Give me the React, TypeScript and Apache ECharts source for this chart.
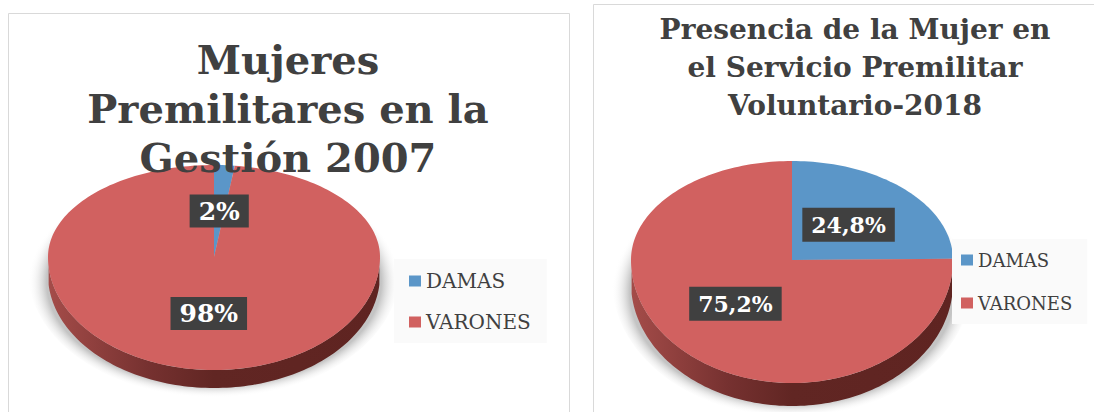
import React, { useEffect, useRef } from "react";
import * as echarts from "echarts";

const categories = ["DAMAS", "VARONES"];
const values2007 = [2, 98];
const values2018 = [24.8, 75.2];
const title2007 = "Mujeres\nPremilitares en la\nGestión 2007";
const title2018 = "Presencia de la Mujer en\nel Servicio Premilitar\nVoluntario-2018";

const COLORS = ["#5b96c8", "#d16160"];
const SERIF = "'DejaVu Serif', serif";

const pies = [
  { values: values2007, cx: 214, cy: 257, rx: 166, ryTop: 92, ryBottom: 113, depth: 18, labelSize: 25, labelPad: [4, 9, 4, 9] },
  { values: values2018, cx: 792, cy: 260, rx: 161, ryTop: 99, ryBottom: 123, depth: 23, labelSize: 22, labelPad: [6, 9, 6, 9] },
];

type Pie = (typeof pies)[number];

const rimPoint = (p: Pie, deg: number, k = 1, dy = 0) => {
  const t = (deg * Math.PI) / 180;
  const c = Math.cos(t);
  return [p.cx + k * p.rx * Math.sin(t), p.cy + dy - k * c * (c > 0 ? p.ryTop : p.ryBottom)];
};

const arc = (p: Pie, from: number, to: number, dy = 0, k = 1) => {
  const pts: number[][] = [];
  const n = Math.max(2, Math.ceil(Math.abs(to - from) / 1.5));
  for (let i = 0; i <= n; i++) pts.push(rimPoint(p, from + ((to - from) * i) / n, k, dy));
  return pts;
};

const fmt = (v: number) => `${String(v).replace(".", ",")}%`;

const sliceSeries = (p: Pie, idx: number) => {
  const total = p.values.reduce((a, b) => a + b, 0);
  const start = p.values.slice(0, idx).reduce((a, b) => a + b, 0);
  return {
    type: "custom",
    name: categories[idx],
    coordinateSystem: "none",
    itemStyle: { color: COLORS[idx] },
    silent: true,
    z: 3,
    data: [[p.values[idx], start]],
    renderItem: (_: any, api: any) => {
      const v = api.value(0);
      const s = api.value(1);
      const a0 = (s / total) * 360;
      const a1 = ((s + v) / total) * 360;
      const mid = (a0 + a1) / 2;
      const [lx, ly] = rimPoint(p, mid, 0.5);
      return {
        type: "group",
        children: [
          {
            type: "polygon",
            shape: { points: [[p.cx, p.cy], ...arc(p, a0, a1)] },
            style: { fill: COLORS[idx] },
          },
          {
            type: "text",
            z2: 100,
            x: lx,
            y: ly,
            style: {
              text: fmt(v),
              fill: "#ffffff",
              font: `bold ${p.labelSize}px ${SERIF}`,
              align: "center",
              verticalAlign: "middle",
              backgroundColor: "#404040",
              padding: p.labelPad,
              boxShadowBlur: 5,
              boxShadowColor: "rgba(0,0,0,0.45)",
              boxShadowOffsetX: 2,
              boxShadowOffsetY: 2,
            },
          },
        ],
      };
    },
  };
};

const baseSeries = (p: Pie) => ({
  type: "custom",
  name: "base",
  coordinateSystem: "none",
  silent: true,
  z: 2,
  data: [[1]],
  renderItem: () => ({
    type: "group",
    children: [
      {
        type: "polygon",
        shape: { points: arc(p, 0, 360, p.depth - 4, 1.12) },
        style: {
          fill: {
            type: "radial",
            x: 0.5,
            y: 0.5,
            r: 0.5,
            colorStops: [
              { offset: 0, color: "#bdbdbd" },
              { offset: 0.9, color: "#c4c4c4" },
              { offset: 1, color: "rgba(255,255,255,0)" },
            ],
          },
        },
      },
      {
        type: "polygon",
        shape: { points: [...arc(p, 95, 265), ...arc(p, 265, 95, p.depth)] },
        style: {
          fill: {
            type: "linear",
            x: 0,
            y: 0,
            x2: 1,
            y2: 0,
            colorStops: [
              { offset: 0, color: "#a44c49" },
              { offset: 0.3, color: "#763130" },
              { offset: 0.5, color: "#612623" },
              { offset: 1, color: "#5f2421" },
            ],
          },
        },
      },
    ],
  }),
});

const frame = (x: number, y: number, w: number, h: number) => ({
  type: "rect",
  silent: true,
  z: 0,
  shape: { x: x + 0.5, y: y + 0.5, width: w, height: h },
  style: { fill: "#ffffff", stroke: "#d9d9d9", lineWidth: 1 },
});

const legend = (left: number, top: number, fontSize: number, itemGap: number, padding: number[]) => ({
  show: true,
  data: categories,
  orient: "vertical",
  left,
  top,
  icon: "rect",
  itemWidth: 12,
  itemHeight: 11,
  itemGap,
  selectedMode: false,
  backgroundColor: "#fafafa",
  padding,
  textStyle: { fontFamily: SERIF, fontSize, color: "#404040" },
});

export default function App() {
  const ref = useRef<HTMLDivElement>(null);
  useEffect(() => {
    const chart = echarts.init(ref.current!, undefined, { renderer: "svg" });
    chart.setOption({
      animation: false,
      backgroundColor: "#ffffff",
      graphic: [frame(8, 13, 561, 420), frame(593, 4, 520, 430)],
      title: [
        {
          text: title2007,
          left: 288,
          top: 35,
          textAlign: "center",
          z: 10,
          padding: 0,
          textStyle: {
            fontFamily: SERIF,
            fontWeight: "bold",
            fontSize: 40,
            lineHeight: 49,
            color: "#404040",
          },
        },
        {
          text: title2018,
          left: 855,
          top: 10,
          textAlign: "center",
          z: 10,
          padding: 0,
          textStyle: {
            fontFamily: SERIF,
            fontWeight: "bold",
            fontSize: 28,
            lineHeight: 38,
            color: "#404040",
          },
        },
      ],
      legend: [
        legend(394, 259, 20, 21, [12, 16, 11, 15]),
        legend(952, 239, 18, 25, [12, 15, 12, 9]),
      ],
      series: pies.flatMap((p) => [baseSeries(p), ...p.values.map((_, i) => sliceSeries(p, i))]),
    });
    return () => chart.dispose();
  }, []);
  return (
    <div
      ref={ref}
      style={{ position: "fixed", left: 0, top: 0, width: 1094, height: 412 }}
    />
  );
}
